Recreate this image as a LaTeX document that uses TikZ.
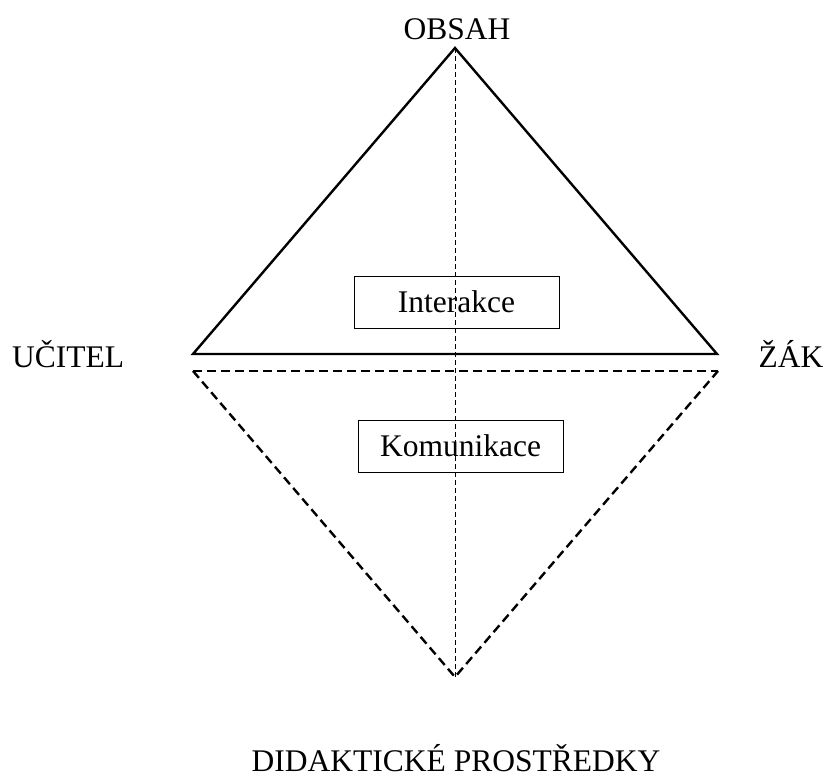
\documentclass[tikz,border=0pt]{standalone}
\usepackage{fontspec}
\setmainfont{Liberation Serif}
\begin{document}
\begin{tikzpicture}[x=1pt,y=-1pt,
  lbl/.style={anchor=base,inner sep=0pt,font=\fontsize{31.5}{36}\selectfont},
  boxlbl/.style={draw,line width=0.9pt,inner sep=0pt,minimum width=205pt,minimum height=52pt,font=\fontsize{31.5}{36}\selectfont},
  solidedge/.style={line width=2.4pt,line join=miter},
  dashedge/.style={line width=2.4pt,dash pattern=on 9pt off 5pt},
  axis/.style={line width=1pt,dash pattern=on 5pt off 3pt}]
\useasboundingbox (0,0) rectangle (826,778);
\coordinate (top) at (455,48);
\coordinate (L) at (193,354);
\coordinate (R) at (717,354);
\coordinate (dl) at (193,371);
\coordinate (dr) at (718,371);
\coordinate (bot) at (455,677);
\draw[solidedge] (L) -- (top) -- (R) -- cycle;
\draw[dashedge] (dl) -- (dr);
\draw[dashedge] (dl) -- (bot) -- (dr);
\draw[axis] (top) -- (bot);
\node[boxlbl] (inter) at (456.5,302) {Interakce};
\node[boxlbl] (komu) at (460.5,446) {Komunikace};
\node[lbl] (obsah) at (457,40) {OBSAH};
\node[lbl] (ucitel) at (68,367) {UČITEL};
\node[lbl] (zak) at (791,367) {ŽÁK};
\node[lbl,text depth=0pt] (dp) at (456,771) {DIDAKTICKÉ PROSTŘEDKY};
\end{tikzpicture}
\end{document}
